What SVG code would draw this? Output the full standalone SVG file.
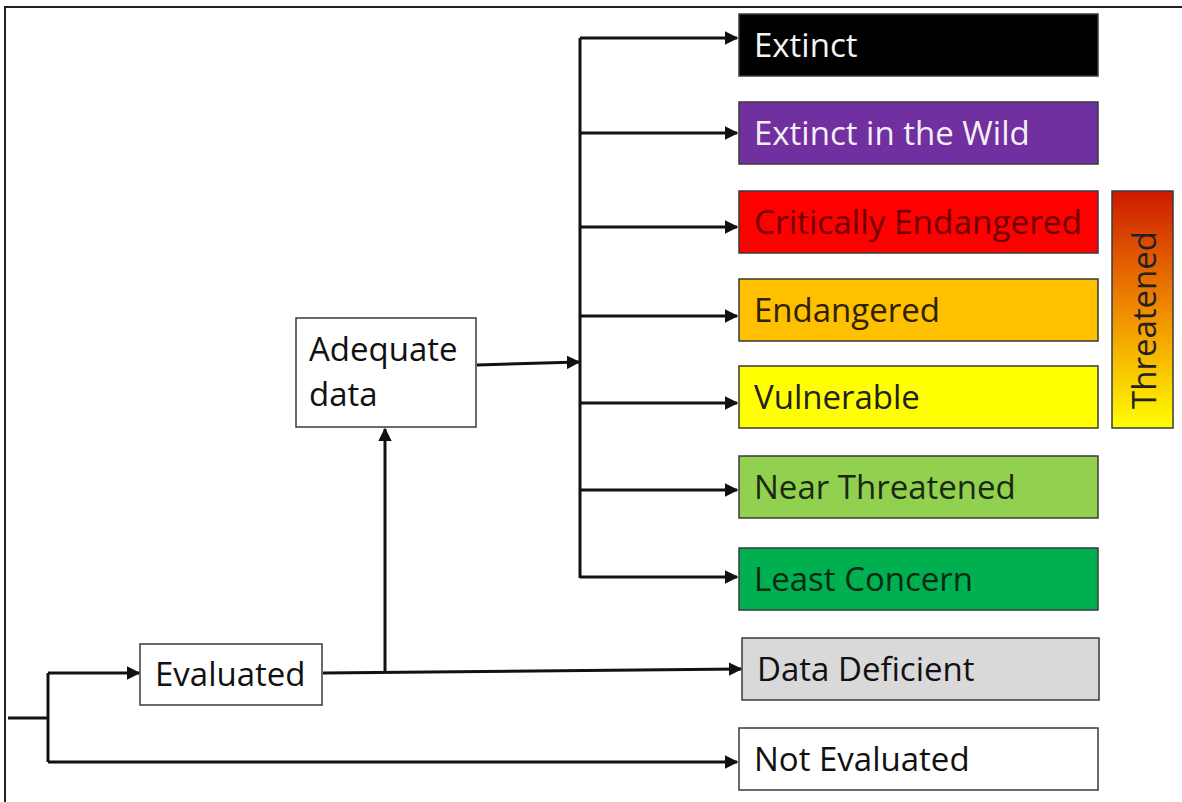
<svg xmlns="http://www.w3.org/2000/svg" width="1182" height="802" viewBox="0 0 1182 802">
  <style>
    .box { stroke: #3a3a3a; stroke-width: 1.5; }
    .lbl { font-family: "Open Sans", "Noto Sans", "Liberation Sans", sans-serif; font-size: 33px; }
    .wire { fill: none; stroke: #111; stroke-width: 3; }
  </style>
  <defs>
    <marker id="arrow" viewBox="0 0 10 10" refX="9" refY="5" markerWidth="4.5" markerHeight="4.5" orient="auto" markerUnits="strokeWidth">
      <path d="M0,0 L10,5 L0,10 z" fill="#111"/>
    </marker>
    <linearGradient id="threatGrad" x1="0" y1="0" x2="0" y2="1">
      <stop offset="0" stop-color="#cc1a00"/>
      <stop offset="0.5" stop-color="#f08a00"/>
      <stop offset="1" stop-color="#ffff00"/>
    </linearGradient>
  </defs>

  <rect width="1182" height="802" fill="#fff"/>
  <!-- frame edges -->
  <path d="M5,802 V7 H1182" fill="none" stroke="#222" stroke-width="2"/>

  <!-- connectors -->
  <g id="connectors">
    <path class="wire" d="M8,718 H48"/>
    <path class="wire" d="M48,673 V762"/>
    <path class="wire" d="M48,673 H139" marker-end="url(#arrow)"/>
    <path class="wire" d="M48,762 H737" marker-end="url(#arrow)"/>
    <path class="wire" d="M323,673 L741,669" marker-end="url(#arrow)"/>
    <path class="wire" d="M385,671 V429" marker-end="url(#arrow)"/>
    <path class="wire" d="M477,365 L579,362" marker-end="url(#arrow)"/>
    <path class="wire" d="M580,38 V578"/>
    <path class="wire" d="M580,38 H737" marker-end="url(#arrow)"/>
    <path class="wire" d="M580,133 H737" marker-end="url(#arrow)"/>
    <path class="wire" d="M580,227 H737" marker-end="url(#arrow)"/>
    <path class="wire" d="M580,316 H737" marker-end="url(#arrow)"/>
    <path class="wire" d="M580,403 H737" marker-end="url(#arrow)"/>
    <path class="wire" d="M580,490 H737" marker-end="url(#arrow)"/>
    <path class="wire" d="M580,577 H737" marker-end="url(#arrow)"/>
  </g>

  <g id="evaluated">
    <rect class="box" x="140" y="644" width="182" height="61" fill="#fff"/>
    <text class="lbl" x="155" y="686" fill="#111">Evaluated</text>
  </g>
  <g id="adequate-data">
    <rect class="box" x="296" y="318" width="180" height="109" fill="#fff"/>
    <text class="lbl" x="309" y="361" fill="#111">Adequate</text>
    <text class="lbl" x="309" y="406" fill="#111">data</text>
  </g>

  <g id="extinct">
    <rect class="box" x="739" y="14" width="359" height="62" fill="#000"/>
    <text class="lbl" x="754" y="57" fill="#f4f4f4">Extinct</text>
  </g>
  <g id="extinct-wild">
    <rect class="box" x="739" y="102" width="359" height="62" fill="#7030a0"/>
    <text class="lbl" x="754" y="145" fill="#f6eef6">Extinct in the Wild</text>
  </g>
  <g id="critically-endangered">
    <rect class="box" x="739" y="191" width="359" height="62" fill="#ff0000"/>
    <text class="lbl" x="754" y="234" fill="#6e0000" textLength="328" lengthAdjust="spacingAndGlyphs">Critically Endangered</text>
  </g>
  <g id="endangered">
    <rect class="box" x="739" y="279" width="359" height="62" fill="#ffc000"/>
    <text class="lbl" x="754" y="322" fill="#2e2200">Endangered</text>
  </g>
  <g id="vulnerable">
    <rect class="box" x="739" y="366" width="359" height="62" fill="#ffff00"/>
    <text class="lbl" x="754" y="409" fill="#222">Vulnerable</text>
  </g>
  <g id="near-threatened">
    <rect class="box" x="739" y="456" width="359" height="62" fill="#92d050"/>
    <text class="lbl" x="754" y="499" fill="#1a2a10">Near Threatened</text>
  </g>
  <g id="least-concern">
    <rect class="box" x="739" y="548" width="359" height="62" fill="#00b050"/>
    <text class="lbl" x="754" y="591" fill="#0a2a14">Least Concern</text>
  </g>
  <g id="data-deficient">
    <rect class="box" x="742" y="638" width="357" height="62" fill="#d9d9d9"/>
    <text class="lbl" x="757" y="681" fill="#111">Data Deficient</text>
  </g>
  <g id="not-evaluated">
    <rect class="box" x="739" y="728" width="359" height="62" fill="#fff"/>
    <text class="lbl" x="754" y="771" fill="#111">Not Evaluated</text>
  </g>

  <g id="threatened">
    <rect class="box" x="1112" y="191" width="61" height="237" fill="url(#threatGrad)"/>
    <text class="lbl" transform="translate(1156,320) rotate(-90)" text-anchor="middle" fill="#222">Threatened</text>
  </g>
</svg>
